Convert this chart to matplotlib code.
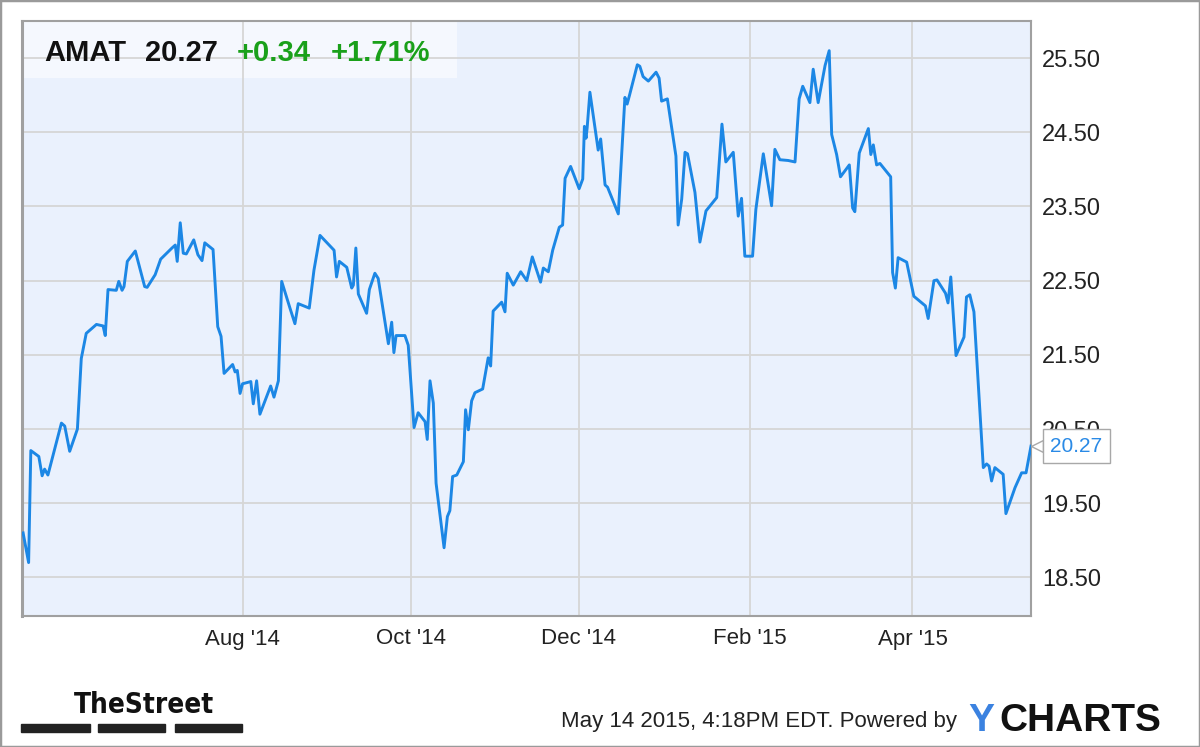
import numpy as np
import pandas as pd
import matplotlib
matplotlib.use('Agg')
import matplotlib.pyplot as plt
from matplotlib.patches import Rectangle
from matplotlib import transforms

plt.rcParams['font.family'] = ['Liberation Sans', 'DejaVu Sans']

ticker = 'AMAT'
last_price = 20.27
change = 0.34
change_pct = 1.71
stamp = 'May 14 2015, 4:18PM EDT. Powered by'

start = pd.Timestamp('2014-05-13')
end = pd.Timestamp('2015-05-14')

# days after start
days = [0.4, 2.4, 3.2, 6.1, 7.3, 8.2, 9.4, 14.3, 15.5, 17.3, 20.1, 21.5, 23.3, 27.0,
        29.4, 30.2, 31.2, 34.2, 35.1, 36.3, 37.0, 38.2, 41.1, 44.5, 45.4, 48.3, 50.3,
        54.4, 55.6, 56.3, 57.4, 58.5, 59.6, 62.3, 63.8, 65.3, 66.3, 69.3, 71.0, 72.2,
        73.3, 76.4, 77.3, 78.1, 79.1, 80.0, 83.0, 83.9, 85.1, 86.3, 90.2, 91.4, 93.0,
        94.2, 97.2, 99.0, 100.2, 104.2, 105.9, 108.1, 113.2, 114.1, 115.1, 117.8,
        119.6, 120.2, 121.1, 122.0, 125.0, 126.0, 128.0, 129.2, 132.9, 134.1, 134.9,
        135.7, 138.9, 140.1, 142.2, 143.7, 146.2, 147.0, 148.0, 149.2, 150.2, 153.1,
        154.3, 155.2, 156.2, 157.7, 160.1, 160.9, 161.9, 163.1, 164.3, 167.1, 169.1,
        170.0, 170.9, 174.0, 175.2, 176.0, 178.2, 180.9, 183.1, 185.1, 188.1, 189.1,
        190.9, 192.5, 194.9, 196.1, 197.0, 199.0, 202.1, 203.4, 204.0, 204.6, 205.0,
        206.0, 209.0, 209.9, 211.5, 212.4, 216.3, 218.7, 219.5, 220.3, 223.2, 224.1,
        225.3, 227.2, 230.0, 231.1, 232.0, 234.1, 237.2, 238.0, 239.3, 240.5, 241.4,
        244.1, 245.9, 248.1, 252.0, 253.9, 255.3, 258.0, 259.8, 261.0, 262.2, 265.0,
        266.2, 268.9, 271.9, 273.1, 274.9, 277.9, 280.4, 281.9, 283.2, 285.8, 287.0,
        288.8, 291.3, 292.8, 293.7, 295.5, 296.9, 300.1, 301.3, 302.1, 303.7, 307.0,
        307.9, 308.8, 310.0, 311.2, 315.1, 315.8, 316.8, 317.8, 320.9, 323.5, 327.7,
        328.7, 330.8, 331.9, 335.0, 335.9, 336.9, 338.8, 341.7, 342.6, 343.8, 345.3,
        348.7, 349.9, 350.8, 351.7, 352.9, 355.9, 356.9, 360.2, 362.6, 364.2, 366.0]

prices = [19.10, 18.70, 20.21, 20.13, 19.87, 19.96, 19.88, 20.58, 20.54, 20.20, 20.50,
          21.45, 21.79, 21.91, 21.89, 21.76, 22.38, 22.37, 22.49, 22.37, 22.42, 22.76,
          22.90, 22.42, 22.41, 22.58, 22.79, 22.94, 22.98, 22.76, 23.28, 22.87, 22.86,
          23.05, 22.85, 22.77, 23.01, 22.92, 21.88, 21.75, 21.25, 21.37, 21.27, 21.29,
          20.98, 21.11, 21.14, 20.84, 21.15, 20.70, 21.08, 20.93, 21.15, 22.49, 22.13,
          21.92, 22.19, 22.13, 22.64, 23.11, 22.91, 22.55, 22.76, 22.68, 22.40, 22.44,
          22.94, 22.32, 22.06, 22.38, 22.60, 22.53, 21.65, 21.94, 21.53, 21.76, 21.76,
          21.63, 20.52, 20.72, 20.60, 20.36, 21.15, 20.85, 19.77, 18.90, 19.32, 19.40,
          19.86, 19.88, 20.06, 20.76, 20.49, 20.88, 20.99, 21.04, 21.46, 21.35, 22.09,
          22.21, 22.08, 22.60, 22.44, 22.62, 22.50, 22.82, 22.48, 22.67, 22.62, 22.91,
          23.22, 23.25, 23.88, 24.04, 23.74, 23.87, 24.58, 24.42, 24.56, 25.04, 24.26,
          24.41, 23.79, 23.76, 23.40, 24.97, 24.88, 24.99, 25.41, 25.39, 25.25, 25.19,
          25.31, 25.23, 24.92, 24.95, 24.18, 23.25, 23.60, 24.23, 24.21, 23.69, 23.02,
          23.44, 23.62, 24.61, 24.10, 24.23, 23.37, 23.61, 22.83, 22.83, 23.46, 24.21,
          23.51, 24.27, 24.13, 24.12, 24.10, 24.95, 25.12, 24.90, 25.35, 24.90, 25.40,
          25.60, 24.47, 24.20, 23.90, 24.06, 23.48, 23.43, 24.22, 24.55, 24.20, 24.33,
          24.06, 24.08, 23.90, 22.61, 22.40, 22.81, 22.75, 22.29, 22.16, 21.99, 22.50,
          22.51, 22.33, 22.20, 22.55, 21.49, 21.74, 22.28, 22.31, 22.08, 19.98, 20.03,
          20.00, 19.80, 19.98, 19.89, 19.36, 19.71, 19.91, 19.91, 20.27]

tick_dates = ['2014-08-01', '2014-10-01', '2014-12-01', '2015-02-01', '2015-04-01']
tick_labels = ["Aug '14", "Oct '14", "Dec '14", "Feb '15", "Apr '15"]
y_ticks = [18.5, 19.5, 20.5, 21.5, 22.5, 23.5, 24.5, 25.5]

dates = start + pd.to_timedelta(days, unit='D')

W, H = 1200, 747
fig = plt.figure(figsize=(12, 7.47), dpi=100)
ax = fig.add_axes([22 / W, 1 - 616 / H, (1031 - 22) / W, (616 - 21) / H])
ax.set_facecolor('#eaf1fd')

ax.plot(dates, prices, color='#1c87e5', lw=2.1, solid_joinstyle='round', zorder=3)

ax.set_xlim(start, end)
ax.set_ylim(17.98, 26.0)
ax.set_xticks(pd.to_datetime(tick_dates))
ax.set_xticklabels(tick_labels)
ax.set_yticks(y_ticks)
ax.set_yticklabels(['%.2f' % v for v in y_ticks])
ax.yaxis.tick_right()
ax.tick_params(axis='x', length=0, pad=9, labelsize=16, colors='#222')
ax.tick_params(axis='y', length=0, pad=8, labelsize=17, colors='#222')
ax.set_axisbelow(True)
ax.grid(True, color='#d6d6d6', lw=1.3)
for s in ax.spines.values():
    s.set_color('#a0a0a0')
    s.set_linewidth(1.5)
ax.spines['left'].set_linewidth(2.2)

# title box
ax.add_patch(Rectangle((0, 1 - (78 - 21) / 595), (457 - 22) / 1009, (78 - 21) / 595,
                       transform=ax.transAxes, facecolor='#f5f8fe', edgecolor='none', zorder=0.2))
fig.text(44 / W, 1 - 61 / H, ticker, fontsize=21, fontweight='bold', color='#111', va='baseline')
fig.text(145 / W, 1 - 61 / H, '%.2f' % last_price, fontsize=21, fontweight='bold', color='#111', va='baseline')
fig.text(237 / W, 1 - 61 / H, '+%.2f' % change, fontsize=21, fontweight='bold', color='#1aa01a', va='baseline')
fig.text(331 / W, 1 - 61 / H, '+%.2f%%' % change_pct, fontsize=21, fontweight='bold', color='#1aa01a', va='baseline')

# last price tag
tip = transforms.offset_copy(ax.transData, fig=fig, x=4, y=0, units='points')
ax.plot([dates[-1]], [prices[-1]], marker='<', ms=8, mfc='white', mec='#a8a8a8', mew=1,
        transform=tip, clip_on=False, zorder=9)
ax.annotate('%.2f' % last_price, xy=(dates[-1], prices[-1]), xytext=(14, 0),
            textcoords='offset points', ha='left', va='center', fontsize=15, color='#2a8ae6',
            bbox=dict(boxstyle='square,pad=0.35', fc='white', ec='#a8a8a8', lw=1),
            annotation_clip=False, zorder=10)

# footer
fig.text(74 / W, 1 - 713 / H, 'TheStreet', fontsize=20, fontweight='bold',
         family='DejaVu Sans', fontstretch='condensed', color='#111', va='baseline')
for x0, x1 in [(21, 90), (98, 165), (175, 242)]:
    fig.patches.append(Rectangle((x0 / W, 1 - 732 / H), (x1 - x0) / W, 8 / H,
                                 transform=fig.transFigure, color='#222'))
fig.text(561 / W, 1 - 727 / H, stamp, fontsize=16, color='#222', va='baseline')
fig.text(968 / W, 1 - 731 / H, 'Y', fontsize=28, fontweight='bold', color='#3b82e0', va='baseline')
fig.text(999 / W, 1 - 731 / H, 'CHARTS', fontsize=28, fontweight='bold', color='#111', va='baseline')

fig.patches.append(Rectangle((0, 0), 1, 1, transform=fig.transFigure, fill=False,
                             edgecolor='#9a9a9a', lw=2.5))

fig.savefig('out.png', dpi=100, facecolor='white')
